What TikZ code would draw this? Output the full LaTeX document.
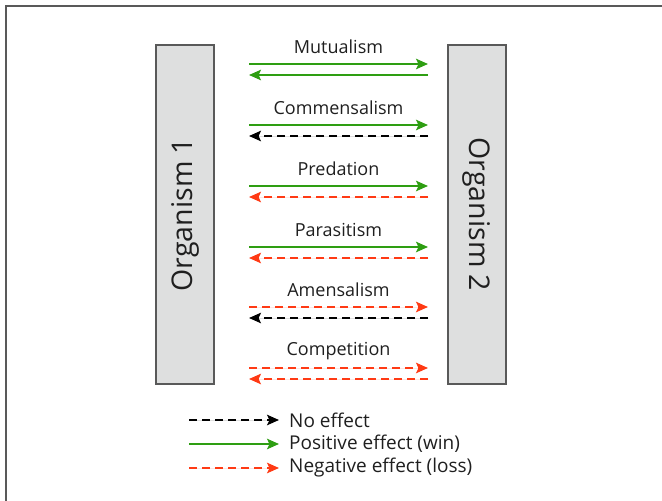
\documentclass[tikz,border=0pt]{standalone}
\usepackage{fontspec}
\setmainfont{Open Sans}
\usetikzlibrary{arrows.meta}
\definecolor{posg}{HTML}{2E9E12}
\definecolor{negr}{HTML}{FF3A14}
\definecolor{frame}{HTML}{595959}
\definecolor{boxfill}{HTML}{DEDFDF}
\tikzset{
  orgbox/.style={draw=frame, line width=1.5pt, fill=boxfill, minimum width=58pt, minimum height=339pt, inner sep=0pt},
  orglabel/.style={font=\fontsize{28.5}{32}\selectfont, text=black!88},
  rellabel/.style={font=\fontsize{18}{21}\selectfont, text=black!88, inner sep=0pt},
  leglabel/.style={font=\fontsize{19}{22}\selectfont, text=black!88, anchor=west, inner sep=0pt},
  effarrow/.style={line width=2pt, -{Stealth[length=12pt,width=10.5pt,inset=2.5pt]}},
  posarr/.style={effarrow, draw=posg, fill=posg},
  negarr/.style={effarrow, draw=negr, fill=negr, dash pattern=on 8pt off 5pt},
  nonearr/.style={effarrow, draw=black, fill=black, dash pattern=on 8pt off 5pt},
}
\begin{document}
\begin{tikzpicture}[x=1pt,y=-1pt]
\useasboundingbox (0,0) rectangle (662,501);
\coordinate (fbl) at (6,520);
\coordinate (ftl) at (6,6);
\coordinate (ftr) at (680,6);
\draw[frame, line width=1.8pt] (fbl) -- (ftl) -- (ftr);
\node[orgbox] (o1) at (185,214.5) {};
\node[orgbox] (o2) at (477,214.5) {};
\node[orglabel, rotate=90] (t1) at (o1) {Organism 1};
\node[orglabel, rotate=-90] (t2) at (o2) {Organism 2};
% rows
\foreach \name/\lab/\ya/\sa/\sb in {mut/Mutualism/64/posarr/posarr, com/Commensalism/125/posarr/nonearr, pre/Predation/186/posarr/negarr, par/Parasitism/247/posarr/negarr, ame/Amensalism/307/negarr/nonearr, cpt/Competition/368/negarr/negarr}{
  \coordinate (\name L1) at (249,\ya);
  \coordinate (\name R1) at (428,\ya);
  \coordinate (\name L2) at (249,\ya+11);
  \coordinate (\name R2) at (428,\ya+11);
  \node[rellabel] (\name lab) at (338.5,\ya-17) {\lab};
  \draw[\sa] (\name L1) -- (\name R1);
  \draw[\sb] (\name R2) -- (\name L2);
}
% legend
\coordinate (l1a) at (189,420);
\coordinate (l1b) at (279,420);
\coordinate (l2a) at (189,444);
\coordinate (l2b) at (279,444);
\coordinate (l3a) at (189,468);
\coordinate (l3b) at (279,468);
\draw[nonearr] (l1a) -- (l1b);
\draw[posarr] (l2a) -- (l2b);
\draw[negarr] (l3a) -- (l3b);
\node[leglabel] (n1) at (289,420) {No effect};
\node[leglabel] (n2) at (289,444) {Positive effect (win)};
\node[leglabel] (n3) at (289,468) {Negative effect (loss)};
\end{tikzpicture}
\end{document}
